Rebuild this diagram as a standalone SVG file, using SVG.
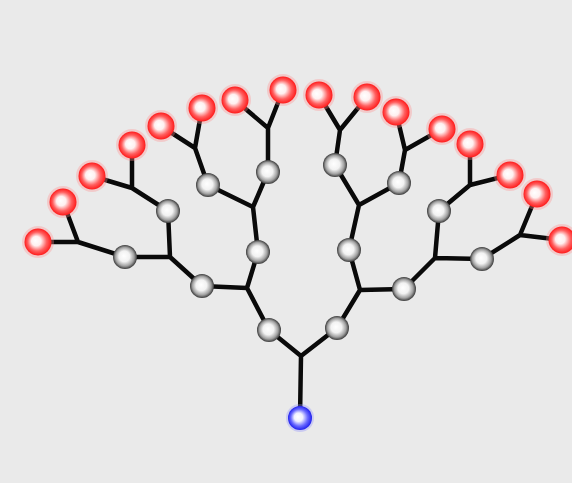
<svg xmlns="http://www.w3.org/2000/svg" width="572" height="483" viewBox="0 0 572 483">
<defs>
<radialGradient id="gRed" cx="0.5" cy="0.5" r="0.5" fx="0.4" fy="0.45">
<stop offset="0" stop-color="#ffffff"/>
<stop offset="0.35" stop-color="#fff0f0"/>
<stop offset="0.7" stop-color="#ff6060"/>
<stop offset="1" stop-color="#ff1a1a"/>
</radialGradient>
<radialGradient id="gGray" cx="0.5" cy="0.5" r="0.5" fx="0.45" fy="0.45">
<stop offset="0" stop-color="#ffffff"/>
<stop offset="0.45" stop-color="#f2f2f2"/>
<stop offset="0.78" stop-color="#a0a0a0"/>
<stop offset="1" stop-color="#3a3a3a"/>
</radialGradient>
<radialGradient id="gBlue" cx="0.5" cy="0.5" r="0.5" fx="0.4" fy="0.45">
<stop offset="0" stop-color="#ffffff"/>
<stop offset="0.35" stop-color="#f0f0ff"/>
<stop offset="0.7" stop-color="#6a6aff"/>
<stop offset="1" stop-color="#2020ee"/>
</radialGradient>
</defs>
<style>
.bond{fill:none;stroke:#0a0a0a;stroke-width:4.5;stroke-linecap:round;stroke-linejoin:round}
.red circle.halo{fill:#ff9090;opacity:0.35}
.red circle.ball{fill:url(#gRed)}
.gray circle{fill:url(#gGray)}
.blue circle.halo{fill:#9090ff;opacity:0.35}
.blue circle.ball{fill:url(#gBlue)}
</style>
<rect width="572" height="483" fill="#eaeaea"/>
<g id="connectors">
<path class="bond" d="M300,418 L301,356 M269,330 L301,356 L337,328"/>
<path class="bond" d="M269,330 L247,288 L258,252 M247,288 L202,286"/>
<path class="bond" d="M337,328 L360,290 L349,250 M360,290 L404,289"/>
<path class="bond" d="M258,252 L253,207 L268,172 M253,207 L208,185"/>
<path class="bond" d="M202,286 L170,257 L168,211 M170,257 L125,257"/>
<path class="bond" d="M349,250 L359,205 L335,165 M359,205 L399,183"/>
<path class="bond" d="M404,289 L435,258 L439,211 M435,258 L482,259"/>
<path class="bond" d="M268,172 L268,128 L235,100 M268,128 L283,90"/>
<path class="bond" d="M208,185 L195,148 L202,108 M195,148 L161,126"/>
<path class="bond" d="M168,211 L132,188 L132,145 M132,188 L92,176"/>
<path class="bond" d="M125,257 L78,242 L63,202 M78,242 L38,242"/>
<path class="bond" d="M335,165 L340,130 L319,95 M340,130 L367,97"/>
<path class="bond" d="M399,183 L405,150 L396,112 M405,150 L442,129"/>
<path class="bond" d="M439,211 L470,185 L470,144 M470,185 L510,175"/>
<path class="bond" d="M482,259 L520,235 L537,194 M520,235 L562,240"/>
</g>
<g id="core" class="blue"><circle class="halo" cx="300" cy="418" r="14"/><circle class="ball" cx="300" cy="418" r="12"/></g>
<g id="g1-left" class="gray"><circle cx="269" cy="330" r="12"/></g>
<g id="g1-right" class="gray"><circle cx="337" cy="328" r="12"/></g>
<g id="g2-a" class="gray"><circle cx="258" cy="252" r="12"/></g>
<g id="g2-b" class="gray"><circle cx="202" cy="286" r="12"/></g>
<g id="g2-c" class="gray"><circle cx="349" cy="250" r="12"/></g>
<g id="g2-d" class="gray"><circle cx="404" cy="289" r="12"/></g>
<g id="g3-a" class="gray"><circle cx="268" cy="172" r="12"/></g>
<g id="g3-b" class="gray"><circle cx="208" cy="185" r="12"/></g>
<g id="g3-c" class="gray"><circle cx="168" cy="211" r="12"/></g>
<g id="g3-d" class="gray"><circle cx="125" cy="257" r="12"/></g>
<g id="g3-e" class="gray"><circle cx="335" cy="165" r="12"/></g>
<g id="g3-f" class="gray"><circle cx="399" cy="183" r="12"/></g>
<g id="g3-g" class="gray"><circle cx="439" cy="211" r="12"/></g>
<g id="g3-h" class="gray"><circle cx="482" cy="259" r="12"/></g>
<g id="t1" class="red"><circle class="halo" cx="235" cy="100" r="16"/><circle class="ball" cx="235" cy="100" r="13.5"/></g>
<g id="t2" class="red"><circle class="halo" cx="283" cy="90" r="16"/><circle class="ball" cx="283" cy="90" r="13.5"/></g>
<g id="t3" class="red"><circle class="halo" cx="202" cy="108" r="16"/><circle class="ball" cx="202" cy="108" r="13.5"/></g>
<g id="t4" class="red"><circle class="halo" cx="161" cy="126" r="16"/><circle class="ball" cx="161" cy="126" r="13.5"/></g>
<g id="t5" class="red"><circle class="halo" cx="132" cy="145" r="16"/><circle class="ball" cx="132" cy="145" r="13.5"/></g>
<g id="t6" class="red"><circle class="halo" cx="92" cy="176" r="16"/><circle class="ball" cx="92" cy="176" r="13.5"/></g>
<g id="t7" class="red"><circle class="halo" cx="63" cy="202" r="16"/><circle class="ball" cx="63" cy="202" r="13.5"/></g>
<g id="t8" class="red"><circle class="halo" cx="38" cy="242" r="16"/><circle class="ball" cx="38" cy="242" r="13.5"/></g>
<g id="t9" class="red"><circle class="halo" cx="319" cy="95" r="16"/><circle class="ball" cx="319" cy="95" r="13.5"/></g>
<g id="t10" class="red"><circle class="halo" cx="367" cy="97" r="16"/><circle class="ball" cx="367" cy="97" r="13.5"/></g>
<g id="t11" class="red"><circle class="halo" cx="396" cy="112" r="16"/><circle class="ball" cx="396" cy="112" r="13.5"/></g>
<g id="t12" class="red"><circle class="halo" cx="442" cy="129" r="16"/><circle class="ball" cx="442" cy="129" r="13.5"/></g>
<g id="t13" class="red"><circle class="halo" cx="470" cy="144" r="16"/><circle class="ball" cx="470" cy="144" r="13.5"/></g>
<g id="t14" class="red"><circle class="halo" cx="510" cy="175" r="16"/><circle class="ball" cx="510" cy="175" r="13.5"/></g>
<g id="t15" class="red"><circle class="halo" cx="537" cy="194" r="16"/><circle class="ball" cx="537" cy="194" r="13.5"/></g>
<g id="t16" class="red"><circle class="halo" cx="562" cy="240" r="16"/><circle class="ball" cx="562" cy="240" r="13.5"/></g>
</svg>
